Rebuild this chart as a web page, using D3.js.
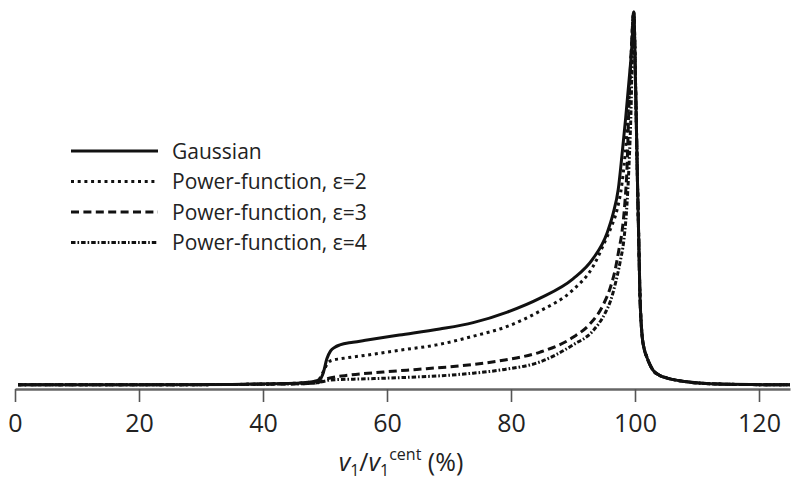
<!DOCTYPE html>
<html>
<head>
<meta charset="utf-8">
<script src="https://cdn.jsdelivr.net/npm/d3@7"></script>
<style>
  html, body { margin: 0; padding: 0; background: #fff; }
  svg { display: block; }
</style>
</head>
<body>
<svg id="chart" width="800" height="495"></svg>
<script>
// ---- Data ----
const xTicks = [0, 20, 40, 60, 80, 100, 120];

// shared steep fall after the peak (all four curves coincide)
const tail = [[100.1,0.80],[100.4,0.55],[100.6,0.40],[100.8,0.25],[101.1,0.15],[101.5,0.105],
  [101.9,0.085],[102.9,0.050],[104,0.036],[105.2,0.029],[108.4,0.019],[113.7,0.013],[125,0.011]];

const gaussian = [[0.5,0.011],[20,0.011],[35,0.012],[42,0.014],[46,0.016],[48,0.019],[49.2,0.026],
  [49.7,0.042],[50.3,0.08],[50.9,0.101],[51.6,0.111],[52.4,0.117],[54.5,0.124],[56.8,0.130],
  [62,0.143],[68.5,0.159],[73.9,0.176],[79.4,0.204],[84.7,0.241],[90,0.292],[93.2,0.345],
  [95.5,0.414],[96.5,0.467],[97.3,0.53],[97.9,0.62],[98.5,0.72],[99.1,0.83],[99.5,0.91],[99.8,1.0]];

const power2 = [[0.5,0.011],[20,0.011],[35,0.012],[42,0.014],[46,0.016],[48,0.019],[49,0.025],
  [49.7,0.045],[50.5,0.070],[51.3,0.077],[52.4,0.080],[56.8,0.090],[62.1,0.103],[68,0.117],
  [73.9,0.140],[79.4,0.166],[84.7,0.207],[90,0.263],[93.2,0.324],[95.2,0.393],[96.3,0.435],
  [97.1,0.475],[97.9,0.545],[98.6,0.66],[99.2,0.82],[99.8,1.0]];

const power3 = [[0.5,0.011],[20,0.011],[35,0.012],[42,0.013],[46,0.014],[48.5,0.016],[49.5,0.020],
  [50.2,0.026],[50.8,0.029],[54,0.037],[59.4,0.045],[64.8,0.052],[69.5,0.058],[73.9,0.065],
  [79,0.077],[84.7,0.098],[90,0.137],[92.7,0.172],[94.8,0.221],[96,0.268],[96.8,0.316],
  [97.4,0.369],[97.9,0.416],[98.4,0.501],[98.7,0.581],[99.0,0.74],[99.4,0.90],[99.8,1.0]];

const power4 = [[0.5,0.011],[20,0.011],[35,0.012],[42,0.013],[46,0.014],[48.5,0.016],[49.5,0.019],
  [50.3,0.022],[50.8,0.024],[56.8,0.027],[64.8,0.032],[68.5,0.035],[73.9,0.042],[79,0.052],
  [84.7,0.072],[90,0.117],[93.2,0.154],[95.2,0.202],[96.1,0.236],[96.9,0.284],[97.6,0.337],
  [98.2,0.395],[98.7,0.488],[99.0,0.581],[99.4,0.767],[99.6,0.926],[99.8,1.0]];

const seriesNames = ["Gaussian", "Power-function, \u03b5=2", "Power-function, \u03b5=3", "Power-function, \u03b5=4"];
const seriesData = [gaussian, power2, power3, power4];
const seriesDash = [null, "3,3.7", "8,4.4", "4.5,2,1.6,2"];

// ---- Chart ----
const svg = d3.select("#chart");
const x = d3.scaleLinear().domain([0, 125]).range([15, 790]);
const y = d3.scaleLinear().domain([0, 1]).range([389, 12]);

const line = d3.line()
  .x(d => x(d[0]))
  .y(d => y(d[1]))
  .curve(d3.curveMonotoneX);

// axis
const axis = d3.axisBottom(x).tickValues(xTicks).tickSize(13).tickSizeOuter(0).tickPadding(12);
const gAxis = svg.append("g").attr("transform", `translate(0,${y(0)})`).call(axis);
gAxis.select(".domain").attr("stroke", "#666").attr("stroke-width", 2.5);
gAxis.selectAll(".tick line").attr("stroke", "#555").attr("stroke-width", 1.6);
gAxis.selectAll(".tick text")
  .attr("font-family", "'Open Sans', sans-serif")
  .attr("font-size", 25)
  .attr("fill", "#222");

// curves
const order = [3, 2, 1, 0];
order.forEach(i => {
  svg.append("path")
    .datum(seriesData[i].concat(tail))
    .attr("fill", "none")
    .attr("stroke", "#111")
    .attr("stroke-width", 3)
    .attr("stroke-linejoin", "round")
    .attr("stroke-dasharray", seriesDash[i])
    .attr("d", line);
});

// legend
const legend = svg.append("g");
seriesNames.forEach((name, i) => {
  const ly = 151 + i * 30.5;
  legend.append("line")
    .attr("x1", 71).attr("x2", 158)
    .attr("y1", ly).attr("y2", ly)
    .attr("stroke", "#111").attr("stroke-width", 3)
    .attr("stroke-dasharray", seriesDash[i]);
  legend.append("text")
    .attr("x", 172).attr("y", ly + 7.5)
    .attr("font-family", "'Open Sans', sans-serif")
    .attr("font-size", 21)
    .attr("fill", "#222")
    .text(name);
});

// x-axis title
const title = svg.append("text")
  .attr("x", 401).attr("y", 471)
  .attr("text-anchor", "middle")
  .attr("font-family", "'Open Sans', sans-serif")
  .attr("font-size", 25)
  .attr("fill", "#222");
title.append("tspan").attr("font-style", "italic").text("v");
title.append("tspan").attr("font-size", 16).attr("dy", 5).text("1");
title.append("tspan").attr("dy", -5).text("/");
title.append("tspan").attr("font-style", "italic").text("v");
title.append("tspan").attr("font-size", 16).attr("dy", 5).text("1");
title.append("tspan").attr("font-size", 16).attr("dy", -16).text("cent");
title.append("tspan").attr("dy", 11).text(" (%)");
</script>
</body>
</html>
